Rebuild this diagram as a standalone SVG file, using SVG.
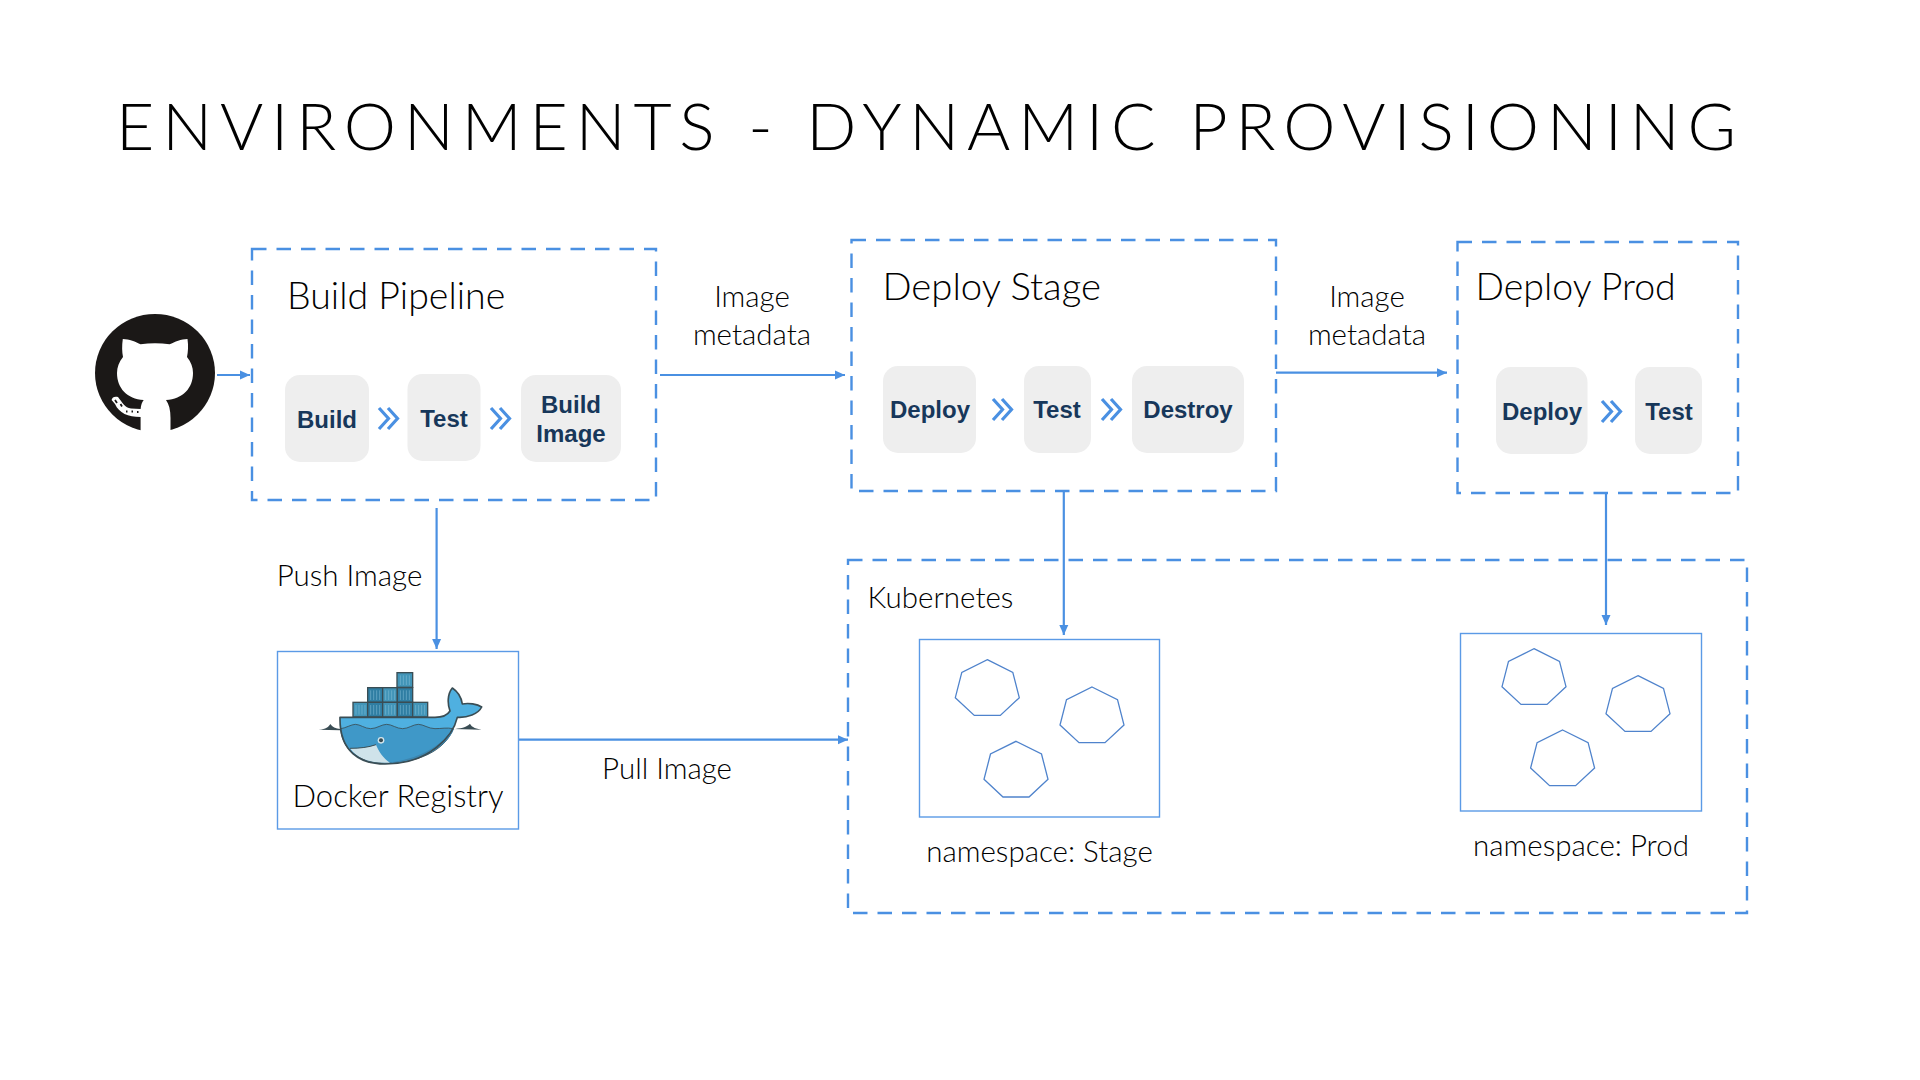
<svg xmlns="http://www.w3.org/2000/svg" xmlns:xlink="http://www.w3.org/1999/xlink" width="1920" height="1080" viewBox="0 0 1920 1080">
<style>
text{font-family:"Lato","Liberation Sans",sans-serif;font-weight:300;fill:#000}
.t{font-size:37.500px}
.l{font-size:29.500px;text-anchor:middle}
.r{font-size:31px;text-anchor:middle}
.b{font-family:"Liberation Sans",Arial,sans-serif;font-weight:700;font-size:24px;fill:#17375a;text-anchor:middle}
.d{fill:none;stroke:#4a90e2;stroke-width:2.400;stroke-dasharray:14.500 10}
.s{fill:#eee}
.n{fill:#fff;stroke:#5b9ae6;stroke-width:1.400}
.h{fill:none;stroke:#4f83cc;stroke-width:1.300}
.c{fill:none;stroke:#4a90e2;stroke-width:2.200;marker-end:url(#a)}
.ch{fill:none;stroke:#4a90e2;stroke-width:3.200}
.ct{stroke:#3a4d54;stroke-width:4;fill:#2f7ea3}
.cl{stroke:#3a4d54;stroke-width:4;fill:#4295b8}
.rib{stroke:#8cc4dc;stroke-width:1.500;fill:none}
</style>
<defs>
<marker id="a" markerUnits="userSpaceOnUse" markerWidth="11" markerHeight="10" refX="10" refY="5" orient="auto"><path d="M0 .5L10 5L0 9.500z" fill="#4a90e2"/></marker>
<g id="chev"><path class="ch" d="M0 0L9.500 10.500L0 21M9 0L18.500 10.500L9 21"/></g>
<polygon id="hept" class="h" points="0,0 25.500,12.700 32,38 13,55.700 -13,55.700 -32,38 -25.500,12.700"/>
</defs>
<rect width="1920" height="1080" fill="#fff"/>
<text id="title" x="116" y="150" font-size="66" textLength="1620" lengthAdjust="spacing">ENVIRONMENTS - DYNAMIC PROVISIONING</text>

<g id="connectors">
<line class="c" x1="217" y1="375" x2="250" y2="375"/>
<line class="c" x1="660" y1="375" x2="845" y2="375"/>
<line class="c" x1="1276" y1="372.700" x2="1447" y2="372.700"/>
<line class="c" x1="436.600" y1="508" x2="436.600" y2="649"/>
<line class="c" x1="1063.800" y1="491" x2="1063.800" y2="635"/>
<line class="c" x1="1606" y1="493" x2="1606" y2="625"/>
<line class="c" x1="519" y1="739.700" x2="848" y2="739.700"/>
</g>

<g id="github">
<ellipse cx="155" cy="373" rx="60" ry="59" fill="#1b1817"/>
<path fill="#fff" d="M122.800 339C129 339 136 342 140.600 344.300C150 343 160 343 169.600 344.300C175 342 181 339 187.500 339C188.500 346 188 352 187 357C191 362 193 367 193 373C193 388 183 399 166 400C169 404 170.500 410 170.500 418V434H140.600V417C128 417 119 413 115 404L111.600 400C112 397 115 396 118 397C122 402 125 408 131 408.500L140.600 409C141 405 142 402 143.700 400C127 399 117 388 117 373C117 367 119 362 123 357C122 352 121.800 346 122.800 339Z"/>
<path d="M115 400l2 3M120.500 404l1.500 2.500M126 411.500h1.500M131.500 411.500h1.500M137 412h1.500" stroke="#1b1817" stroke-width="1.800" fill="none"/>
</g>

<g id="build-pipeline">
<rect class="d" x="252" y="249" width="404" height="251"/>
<text class="t" x="287" y="309">Build Pipeline</text>
<rect class="s" x="285" y="375" width="84" height="87" rx="15"/>
<text class="b" x="327" y="428">Build</text>
<use xlink:href="#chev" href="#chev" x="379" y="408"/>
<rect class="s" x="407.500" y="374" width="73" height="87" rx="15"/>
<text class="b" x="444" y="427">Test</text>
<use xlink:href="#chev" href="#chev" x="491" y="408"/>
<rect class="s" x="521" y="375" width="100" height="87" rx="15"/>
<text class="b" x="571" y="413">Build</text>
<text class="b" x="571" y="442">Image</text>
</g>

<g id="deploy-stage">
<rect class="d" x="851.500" y="240" width="424.500" height="251"/>
<text class="t" x="882.500" y="299.500" style="font-size:38.300px">Deploy Stage</text>
<rect class="s" x="883" y="366" width="93" height="87" rx="15"/>
<text class="b" x="930" y="418">Deploy</text>
<use xlink:href="#chev" href="#chev" x="993" y="399"/>
<rect class="s" x="1024" y="366" width="67" height="87" rx="15"/>
<text class="b" x="1057" y="418">Test</text>
<use xlink:href="#chev" href="#chev" x="1102" y="399"/>
<rect class="s" x="1132" y="366" width="112" height="87" rx="15"/>
<text class="b" x="1188" y="418">Destroy</text>
</g>

<g id="deploy-prod">
<rect class="d" x="1457.500" y="242" width="280.500" height="251"/>
<text class="t" x="1475.500" y="299.500">Deploy Prod</text>
<rect class="s" x="1496" y="367" width="91.500" height="87" rx="15"/>
<text class="b" x="1542" y="420">Deploy</text>
<use xlink:href="#chev" href="#chev" x="1602" y="401"/>
<rect class="s" x="1635" y="367" width="67" height="87" rx="15"/>
<text class="b" x="1669" y="419.500">Test</text>
</g>

<g id="label-image-metadata-1">
<text class="l" x="752" y="307">Image</text>
<text class="l" x="752" y="345">metadata</text>
</g>
<g id="label-image-metadata-2">
<text class="l" x="1367" y="307">Image</text>
<text class="l" x="1367" y="345">metadata</text>
</g>
<text id="label-push" class="l" x="349.500" y="586">Push Image</text>
<text id="label-pull" class="l" x="667" y="779">Pull Image</text>

<g id="docker-registry">
<rect class="n" x="277.500" y="651.500" width="241" height="177.500"/>
<g transform="translate(250 630) scale(.333333)">
<rect class="cl" x="441" y="128" width="47" height="44"/>
<rect class="ct" x="353" y="173" width="45" height="44"/>
<rect class="cl" x="398" y="173" width="44" height="44"/>
<rect class="ct" x="442" y="173" width="46" height="44"/>
<rect class="cl" x="309" y="217" width="44" height="44"/>
<rect class="ct" x="353" y="217" width="45" height="44"/>
<rect class="cl" x="398" y="217" width="44" height="44"/>
<rect class="ct" x="442" y="217" width="46" height="44"/>
<rect class="cl" x="488" y="217" width="45" height="44"/>
<path class="rib" d="M451 165V136M460 165V136M469 165V136M478 165V136M362 210V181M371 210V181M380 210V181M389 210V181M407 210V181M416 210V181M425 210V181M434 210V181M451 210V181M460 210V181M469 210V181M478 210V181M318 254V225M327 254V225M336 254V225M345 254V225M362 254V225M371 254V225M380 254V225M389 254V225M407 254V225M416 254V225M425 254V225M434 254V225M451 254V225M460 254V225M469 254V225M478 254V225M497 254V225M506 254V225M515 254V225M524 254V225"/>
<path d="M206 299C228 298 236 290 241 282C247 291 256 296 272 297L270 301ZM608 297C630 296 650 292 660 281C665 292 680 297 698 299Z" fill="#3a4d54"/>
<path d="M270 262H555C575 262 592 256 600 243C592 222 592 192 607 174C622 184 634 202 637 222C656 218 682 222 695 231C685 252 652 264 622 262C610 315 540 402 405 402C330 402 268 365 270 262Z" fill="#4fb0e0"/>
<path d="M272 296C285 295 305 283 316 283C330 283 345 296 362 296C380 296 395 283 410 283C425 283 440 296 458 296C475 296 490 283 505 283C520 283 535 296 555 296C575 296 590 292 610 296C592 345 530 399 405 399C330 399 275 360 272 296Z" fill="#3f98c8" stroke="#3a4d54" stroke-width="2.500"/>
<path d="M608 298C575 345 510 390 405 399C500 399 590 355 612 296Z" fill="#3d85ae"/>
<path d="M300 355C330 355 355 352 378 344C385 362 400 385 420 398C360 402 320 385 300 355Z" fill="#cfe3ea"/>
<path d="M300 355C330 355 355 352 378 344" fill="none" stroke="#3a4d54" stroke-width="3"/>
<path d="M270 262H555C575 262 592 256 600 243C592 222 592 192 607 174C622 184 634 202 637 222C656 218 682 222 695 231C685 252 652 264 622 262C610 315 540 402 405 402C330 402 268 365 270 262Z" fill="none" stroke="#3a4d54" stroke-width="5" stroke-linejoin="round"/>
<circle cx="393" cy="331" r="10" fill="#d6e6ec"/>
<circle cx="393" cy="331" r="6" fill="#3a4d54"/>
</g>
<text x="398" y="807" class="r">Docker Registry</text>
</g>

<g id="kubernetes">
<rect class="d" x="848" y="560" width="899" height="353"/>
<text class="l" x="940.500" y="608">Kubernetes</text>
</g>

<g id="namespace-stage">
<rect class="n" x="919.500" y="639.500" width="240" height="177.500"/>
<use xlink:href="#hept" href="#hept" x="987.300" y="659.700"/>
<use xlink:href="#hept" href="#hept" x="1092" y="687"/>
<use xlink:href="#hept" href="#hept" x="1016" y="741.300"/>
<text class="l" x="1039.500" y="862">namespace: Stage</text>
</g>

<g id="namespace-prod">
<rect class="n" x="1460.500" y="633.500" width="241" height="177.500"/>
<use xlink:href="#hept" href="#hept" x="1534" y="648.700"/>
<use xlink:href="#hept" href="#hept" x="1638" y="675.700"/>
<use xlink:href="#hept" href="#hept" x="1562.600" y="730"/>
<text class="l" x="1581" y="856">namespace: Prod</text>
</g>
</svg>
